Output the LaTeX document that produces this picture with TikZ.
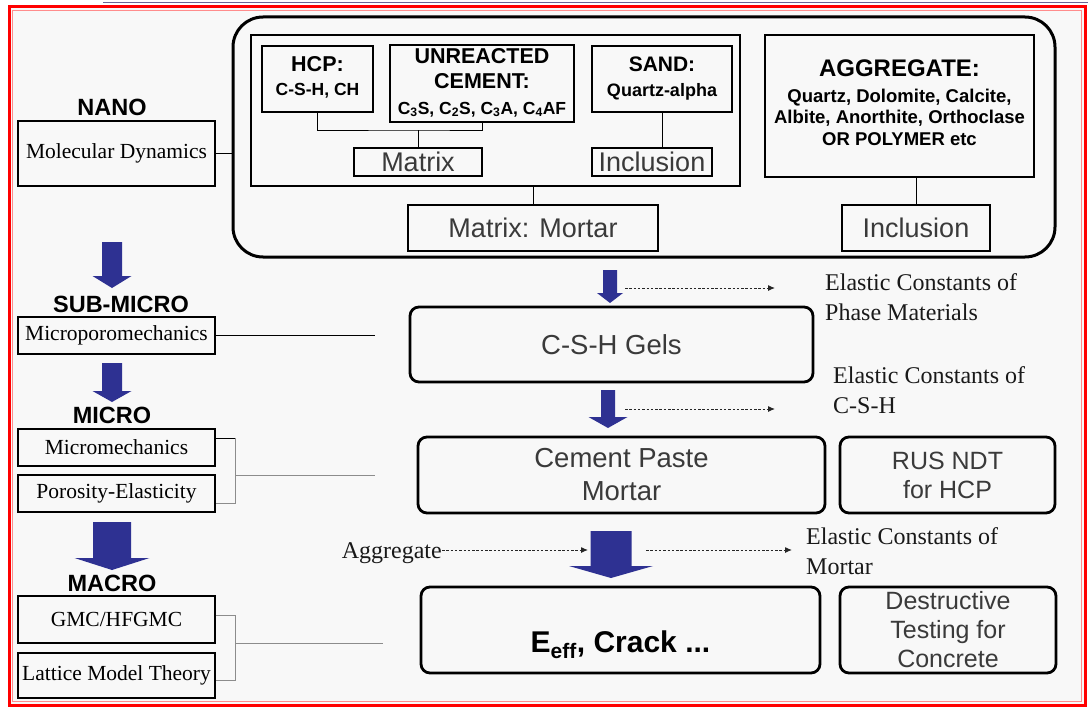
\documentclass[tikz,border=0pt]{standalone}
\usepackage{fontspec}
\setmainfont{Liberation Serif}
\setsansfont{Liberation Sans}
\usetikzlibrary{arrows.meta}
\definecolor{bg}{HTML}{F8F8F8}
\definecolor{navy}{HTML}{2E3192}
\definecolor{txtgray}{HTML}{3A3A3A}
\definecolor{topline}{HTML}{6A6496}
\def\fsz#1#2{\fontsize{#1}{#2}\selectfont}
\newcommand\blockarrow[6]{\fill[navy] (#1-#2,#3) -- (#1+#2,#3) -- (#1+#2,#5) -- (#1+#4,#5) -- (#1,#6) -- (#1-#4,#5) -- (#1-#2,#5) -- cycle;}
\tikzset{
 lbox/.style={draw=black, line width=1.3pt, inner sep=0pt, minimum width=197pt, font=\fsz{21.5}{24}},
 lvl/.style={inner sep=0pt, font=\sffamily\bfseries\fsz{23.5}{26}},
 thinbox/.style={draw=black, line width=1.3pt, inner sep=0pt, text=txtgray, font=\sffamily\fsz{27}{30}},
 phase/.style={draw=black, line width=1.6pt, inner sep=0pt, align=center},
 rbox/.style={draw=black, line width=2.8pt, rounded corners=9pt, inner sep=0pt, align=center, text=txtgray, font=\sffamily\fsz{27.5}{33}},
 conn/.style={line width=1pt, draw=black},
 brk/.style={line width=1pt, draw=black!45},
 dotarrow/.style={line width=1pt, draw=black!85, dash pattern=on 2.5pt off 1.8pt, -{Latex[length=7pt,width=6pt]}},
 note/.style={anchor=west, align=left, inner sep=0pt, text=black!90, font=\fsz{24}{30}},
}
\begin{document}
\begin{tikzpicture}[x=1pt,y=-1pt]
\useasboundingbox (0,0) rectangle (1088,709);
\fill[white] (0,0) rectangle (1088,709);
\fill[bg] (9,7) rectangle (1085,705);
\draw[red!45, line width=1.5pt] (12.5,10.5) rectangle (1081.5,701.5);
\draw[red, line width=3pt] (9,7) rectangle (1085,705);
\draw[topline, line width=1.5pt] (103,2.5) -- (1088,2.5);

% ---- top composite box
\node[draw, line width=3pt, rounded corners=30pt, minimum width=822pt, minimum height=240pt, inner sep=0pt] (outer) at (644,137) {};
\node[draw, line width=2.5pt, minimum width=489pt, minimum height=151pt, inner sep=0pt] (mat) at (495.5,110.5) {};
\node[phase, minimum width=111pt, minimum height=66pt, font=\sffamily\bfseries\fsz{20}{24}] (hcp) at (317.5,79)
  {\begin{tabular}{@{}c@{}}\fsz{21.5}{24}HCP:\\ \fsz{17.5}{20}C-S-H, CH\end{tabular}};
\node[phase, minimum width=184pt, minimum height=75pt, font=\sffamily\bfseries\fsz{20}{25.5}] (unr) at (482,83.5)
  {\begin{tabular}{@{}c@{}}\fsz{21.5}{24}UNREACTED\\ \fsz{21.5}{24}CEMENT:\\ \fsz{17.5}{20}C\textsubscript{3}S, C\textsubscript{2}S, C\textsubscript{3}A, C\textsubscript{4}AF\end{tabular}};
\node[phase, minimum width=140pt, minimum height=66pt, font=\sffamily\bfseries\fsz{20}{25}] (sand) at (662,79)
  {\begin{tabular}{@{}c@{}}\fsz{21}{24}SAND:\\ \fsz{18}{20}Quartz-alpha\end{tabular}};
\node[thinbox, minimum width=128pt, minimum height=28pt] (matrix) at (418,162) {Matrix};
\node[thinbox, minimum width=120pt, minimum height=28pt] (incl1) at (652,162) {Inclusion};
\node[thinbox, minimum width=250pt, minimum height=46pt] (mortar) at (533,228) {Matrix: Mortar};
\node[phase, line width=2.5pt, minimum width=269pt, minimum height=142pt, font=\sffamily\bfseries\fsz{18.5}{21.5}] (agg) at (899.5,106)
  {\begin{tabular}{@{}c@{}}\fsz{24}{26}AGGREGATE:\\[4pt] Quartz, Dolomite, Calcite,\\ Albite, Anorthite, Orthoclase\\ OR POLYMER etc\end{tabular}};
\node[thinbox, minimum width=148pt, minimum height=46pt] (incl2) at (916,228) {Inclusion};

\coordinate (j) at (418,130);
\draw[conn] (hcp.south) |- (j) -| (unr.south);
\draw[conn] (j) -- (matrix.north);
\draw[conn] (sand.south) -- (sand.south |- incl1.north);
\draw[conn] (mortar.north) -- (mortar.north |- mat.south);
\draw[conn] (incl2.north) -- (incl2.north |- agg.south);

% ---- left column
\node[lvl] (nano) at (112,107) {NANO};
\node[lbox, minimum height=65pt] (md) at (116.5,153.5) {Molecular Dynamics};
\draw[conn] (md.east) -- (md.east -| outer.west);
\blockarrow{112}{10}{242}{19.5}{276}{288}
\node[lvl] (sub) at (121,304) {SUB-MICRO};
\node[lbox, minimum height=37pt] (mpm) at (116.5,335.5) {Microporomechanics};
\coordinate (e1) at (375,335.5);
\draw[conn] (mpm.east) -- (e1);
\blockarrow{112}{10}{363}{19.5}{391}{402}
\node[lvl] (micro) at (112,415) {MICRO};
\node[lbox, minimum height=37pt] (mm) at (116.5,447.5) {Micromechanics};
\node[lbox, minimum height=37pt] (pe) at (116.5,493.5) {Porosity-Elasticity};
\draw[conn] ([yshift=9.5pt]mm.east) -- ++(20,0);
\draw[brk] ([yshift=9.5pt]mm.east) ++(20,0) |- ([yshift=-9.5pt]pe.east);
\coordinate (b1) at (235,475);
\coordinate (e2) at (375,475);
\draw[brk] (b1) -- (e2);
\blockarrow{112}{19}{522}{37.5}{558}{570}
\node[lvl] (macro) at (112,583) {MACRO};
\node[lbox, minimum height=47pt] (gmc) at (116.5,619.5) {GMC/HFGMC};
\node[lbox, minimum height=45pt] (lat) at (116.5,675.5) {Lattice Model Theory};
\draw[brk] ([yshift=4.5pt]gmc.east) -- ++(20,0) |- ([yshift=-4.5pt]lat.east);
\coordinate (b2) at (235,643);
\coordinate (e3) at (383,643);
\draw[brk] (b2) -- (e3);

% ---- centre column
\blockarrow{610}{7}{270}{13}{293}{303}
\coordinate (d1s) at (625,288);
\coordinate (d1e) at (775,288);
\draw[dotarrow] (d1s) -- (d1e);
\node[note] (n1) at (825,297) {Elastic Constants of\\Phase Materials};
\node[rbox, minimum width=403pt, minimum height=75pt] (csh) at (611.5,344.5) {C-S-H Gels};

\blockarrow{608}{7}{390}{19.5}{417}{428}
\coordinate (d2s) at (625,409);
\coordinate (d2e) at (775,409);
\draw[dotarrow] (d2s) -- (d2e);
\node[note] (n2) at (833,390) {Elastic Constants of\\C-S-H};
\node[rbox, minimum width=407pt, minimum height=76pt] (cp) at (621.5,475) {Cement Paste\\Mortar};
\node[rbox, minimum width=215pt, minimum height=76pt, font=\sffamily\fsz{25}{29}] (rus) at (947.5,475) {RUS NDT\\for HCP};

\blockarrow{611}{20.5}{531}{42}{566}{578}
\node[note, anchor=east] (aggl) at (442,553) {Aggregate};
\coordinate (d3e) at (588,550);
\draw[dotarrow] (aggl.east |- d3e) -- (d3e);
\coordinate (d4s) at (646,550);
\coordinate (d4e) at (792,550);
\draw[dotarrow] (d4s) -- (d4e);
\node[note] (n3) at (806,551) {Elastic Constants of\\Mortar};
\node[rbox, minimum width=399pt, minimum height=86pt, text=black, font=\sffamily\bfseries\fsz{30}{34}] (eeff) at (620.5,630) {\raisebox{-22pt}[0pt][0pt]{E\textsubscript{eff}, Crack ...}};
\node[rbox, minimum width=216pt, minimum height=86pt, font=\sffamily\fsz{25}{29}] (dt) at (948,630) {Destructive\\Testing for\\Concrete};
\end{tikzpicture}
\end{document}
